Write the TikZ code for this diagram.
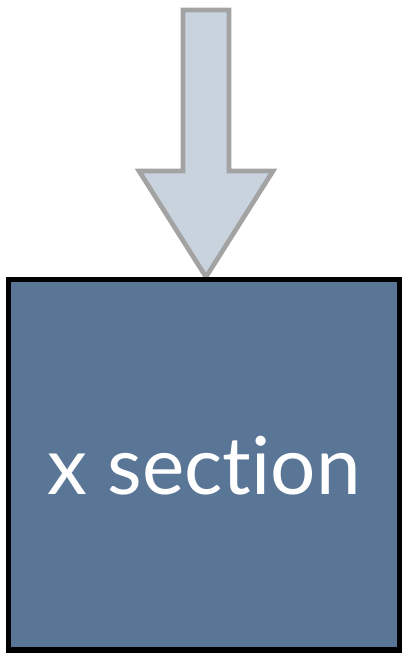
\documentclass[tikz,border=0pt]{standalone}
\usepackage{fontspec}
\setmainfont{Lato}[Ligatures={NoCommon,NoRare}]
\usetikzlibrary{calc}
\definecolor{slate}{RGB}{90,118,150}
\definecolor{arrowfill}{RGB}{200,211,222}
\definecolor{arrowline}{RGB}{163,163,163}

\begin{document}
\begin{tikzpicture}[x=0.75pt,y=-0.75pt]
                \useasboundingbox (0,0) rectangle (403,656);
                \coordinate (T) at (206,10);
                \coordinate (P) at (206,277);

                \draw[line width=3.5pt,draw=arrowline,fill=arrowfill,line join=miter]
                    ($(T)+(-23,0)$) -- ($(T)+(23,0)$) -- (229,171) -- (273,171)
                    -- (P) -- (139,171) -- (183,171) -- cycle;

                \draw[line width=3.8pt,fill=slate] (8.5,279.5) rectangle (399.5,650);

                \node[anchor=base,text=white,font=\fontsize{60}{72}\selectfont,inner sep=0pt] (lbl) at (204,494) {x section};
            \end{tikzpicture}
\end{document}
